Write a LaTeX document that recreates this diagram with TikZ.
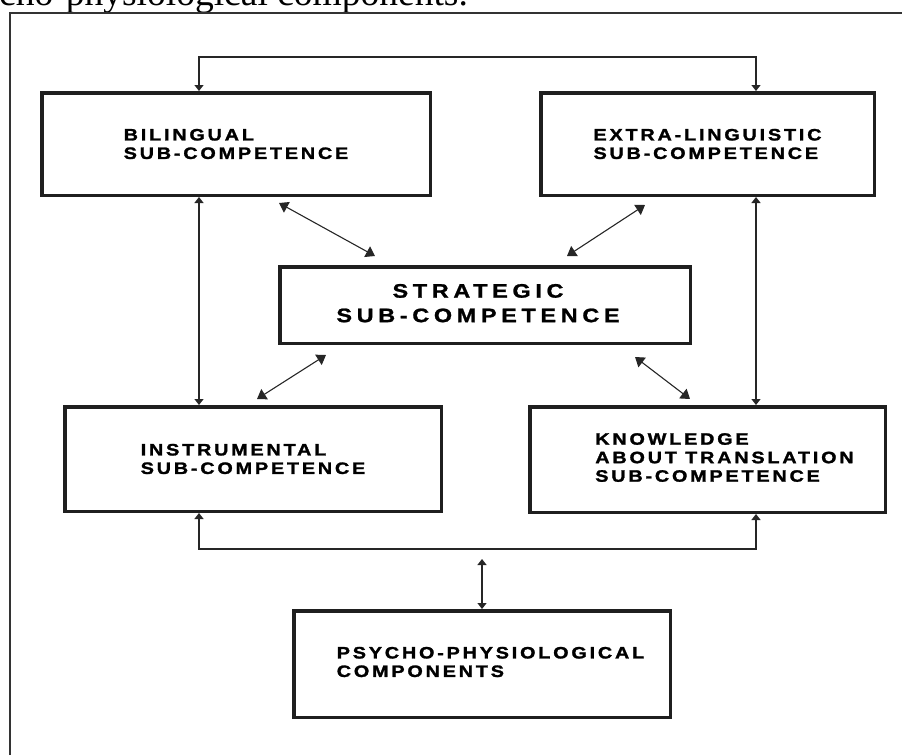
\documentclass[tikz,border=0pt]{standalone}
\usepackage{fontspec}
\setmainfont{Liberation Serif}
\newfontfamily\partfont{Liberation Sans Bold}[LetterSpace=17, FakeStretch=1.2, FakeBold=1.6]
\newfontfamily\corefont{Liberation Sans Bold}[LetterSpace=24, FakeStretch=1.2, FakeBold=1.2]
\usetikzlibrary{arrows.meta}

\tikzset{
    part/.style = {
        draw=black!88,
        line width=3.5pt,
        align=left,
        inner sep=0,
        font=\partfont\fontsize{16.5}{18.5}\selectfont,
    },
    core/.style = {
        part,
        font=\corefont\fontsize{19.5}{24.5}\selectfont,
    },
    link/.style = {
        draw=black!85,
        line width=1.3pt,
        >={Triangle[length=6pt,width=9pt]},
        <->,
    },
    spoke/.style = {
        draw=black!85,
        line width=1.1pt,
        >={Triangle[length=9pt,width=12pt]},
        <->,
    },
    frame line/.style = {
        draw=black!80,
        line width=1.4pt,
    },
    caption/.style = {
        anchor=base west,
        inner sep=0,
        font=\fontsize{37.5}{40}\selectfont,
    },
}

\begin{document}
\begin{tikzpicture}[x=1pt, y=-1pt]
    \useasboundingbox (0,0) rectangle (902,755);

    % caption cut off at the top and the frame
    \node[caption] (cap) at (-1,5) {cho-physiological components.};
    \draw[frame line] (10,755) -- (10,13) -- (902,13);

    % sub-competences
    \node[part, minimum width=388.5pt, minimum height=102.5pt] (bil) at (236,144)
        {BILINGUAL\\SUB-COMPETENCE};
    \node[part, minimum width=333.5pt, minimum height=102.5pt] (ext) at (707.5,144)
        {EXTRA-LINGUISTIC\\SUB-COMPETENCE};
    \node[core, minimum width=410.5pt, minimum height=76.5pt] (str) at (485,305)
        {\begin{tabular}{@{}c@{}}STRATEGIC\\SUB-COMPETENCE\end{tabular}\hspace*{14pt}};
    \node[part, minimum width=376.5pt, minimum height=104.5pt] (ins) at (253,459)
        {INSTRUMENTAL\\SUB-COMPETENCE};
    \node[part, minimum width=355.5pt, minimum height=105.5pt] (kno) at (707.5,459.5)
        {\hspace*{34pt}\begin{tabular}{@{}l@{}}KNOWLEDGE\\ABOUT TRANSLATION\\SUB-COMPETENCE\end{tabular}};
    \node[part, minimum width=376.5pt, minimum height=106.5pt] (psy) at (482,664)
        {\hspace*{17pt}\begin{tabular}{@{}l@{}}PSYCHO-PHYSIOLOGICAL\\COMPONENTS\end{tabular}};

    % columns and bars of the outer links
    \coordinate (lcol) at (199,57);
    \coordinate (rcol) at (756,57);
    \coordinate (bbar) at (0,549);
    \coordinate (hub) at (482,559);

    % outer links
    \draw[link] (bil.north -| lcol) |- (rcol) -- (ext.north -| rcol);
    \draw[link] (bil.south -| lcol) -- (ins.north -| lcol);
    \draw[link] (ext.south -| rcol) -- (kno.north -| rcol);
    \draw[link] (ins.south -| lcol) |- (bbar -| rcol) -- (kno.south -| rcol);
    \draw[link] (hub) -- (psy.north);

    % links to the strategic sub-competence
    \draw[spoke] ([xshift=-153pt,yshift=-6pt]bil.south east) -- ([xshift=-110pt,yshift=9pt]str.north);
    \draw[spoke] ([xshift=106pt,yshift=-8pt]ext.south west) -- ([xshift=82pt,yshift=9pt]str.north);
    \draw[spoke] ([xshift=-159pt,yshift=-10pt]str.south) -- ([xshift=4pt,yshift=6pt]ins.north);
    \draw[spoke] ([xshift=150pt,yshift=-12pt]str.south) -- ([xshift=-17.5pt,yshift=6pt]kno.north);

\end{tikzpicture}
\end{document}
